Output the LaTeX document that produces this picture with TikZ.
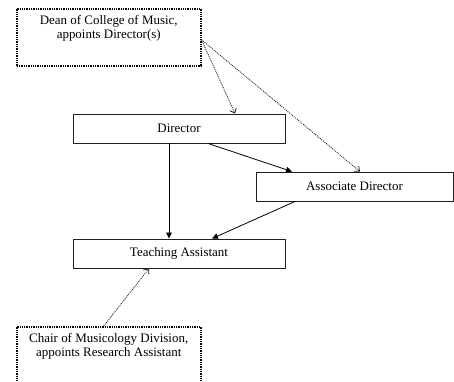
\documentclass[tikz,border=0pt]{standalone}
\usepackage{fontspec}
\setmainfont{Liberation Serif}
\usepackage{tikz}
\usetikzlibrary{arrows.meta, positioning, calc}
\definecolor{BoxLine}{HTML}{202020}
\definecolor{DotLine}{HTML}{202020}
\newcommand{\topline}{\rule{0pt}{16bp}}

\begin{document}
\begin{tikzpicture}[x=1bp, y=-1bp,
    font=\fontsize{13}{14}\selectfont,
    rolebox/.style={draw=BoxLine, line width=0.9bp, minimum height=29bp,
                    inner sep=0pt},
    apptbox/.style={draw=black, line width=1.5bp, dash pattern=on 1.3bp off 1bp,
                    inner sep=0pt, anchor=north west},
    solidarrow/.style={draw=black, line width=0.8bp,
                       -{Triangle[length=6bp, width=5.5bp]}},
    dotarrow/.style={draw=DotLine, line width=0.8bp, dash pattern=on 1bp off 1bp,
                     -{Straight Barb[length=4bp, width=7bp]}}
]
\clip (0,0) rectangle (454,381);
\fill[white] (0,0) rectangle (454,381);

% appointing offices
\node[apptbox] (dean) at (16,8)
    {\parbox[t][57bp][t]{184bp}{\centering\topline Dean of College of Music,\\ appoints Director(s)}};
\node[apptbox] (chair) at (16,326)
    {\parbox[t][57bp][t]{184bp}{\centering\topline Chair of Musicology Division,\\ appoints Research Assistant}};

% positions
\node[rolebox, minimum width=212bp] (director) at (179,128.5) {Director};
\node[rolebox, minimum width=197bp] (assoc) at (354.5,186.5) {Associate Director};
\node[rolebox, minimum width=212bp] (ta) at (179,253.5) {Teaching Assistant};

% appointments
\draw[dotarrow] ([yshift=-2.5bp]dean.east) -- ([xshift=56bp]director.north);
\draw[dotarrow] ([yshift=-2.5bp]dean.east) -- ([xshift=5.5bp]assoc.north);
\draw[dotarrow] ([xshift=-5bp]chair.north) -- ([xshift=-30bp]ta.south);

% reporting lines
\draw[solidarrow] ([xshift=29bp]director.south) -- ([xshift=-62.5bp]assoc.north);
\draw[solidarrow] ([xshift=-10bp]director.south) -- ([xshift=-10bp]ta.north);
\draw[solidarrow] ([xshift=-59.5bp]assoc.south) -- ([xshift=33bp]ta.north);
\end{tikzpicture}
\end{document}
